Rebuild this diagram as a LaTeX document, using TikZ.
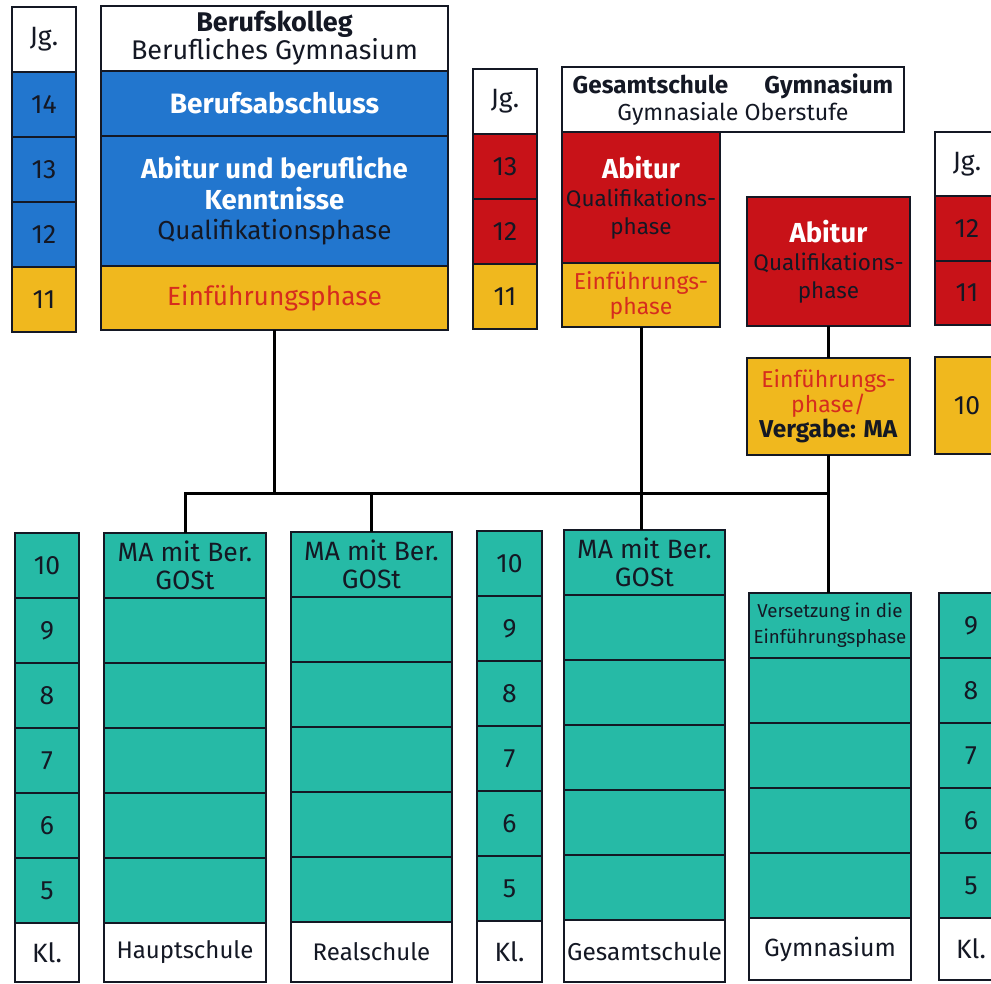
\documentclass[tikz,border=0pt]{standalone}
\usepackage{fontspec}
\setmainfont{Fira Sans}
\usetikzlibrary{positioning}
\definecolor{bkblue}{RGB}{34,118,206}
\definecolor{abired}{RGB}{200,18,24}
\definecolor{efyellow}{RGB}{240,184,30}
\definecolor{setteal}{RGB}{38,186,166}
\definecolor{eftext}{RGB}{214,44,30}
\definecolor{ink}{RGB}{20,24,36}
\newcommand{\setfs}[2]{\fontsize{#1}{#2}\selectfont}
\tikzstyle{cell} = [rectangle, draw=ink, line width=1.2pt, inner sep=0pt, outer sep=0pt,
    align=center, text=ink, font=\setfs{26.5}{30}]
\tikzstyle{jg} = [cell, minimum width=64pt, minimum height=65pt]
\tikzstyle{link} = [line width=3pt, black]

\begin{document}
\begin{tikzpicture}[x=1pt,y=-1pt]
  \clip (0,0) rectangle (991,983);

  % Berufskolleg
  \node[jg, fill=white, anchor=north west] (jgA0) at (12,7) {Jg.};
  \foreach \n/\c/\i/\j in {14/bkblue/1/0, 13/bkblue/2/1, 12/bkblue/3/2, 11/efyellow/4/3}
    \node[jg, fill=\c, below=0pt of jgA\j] (jgA\i) {\n};

  \node[cell, fill=white, minimum width=347pt, minimum height=65pt, anchor=north west,
        font=\setfs{27}{28}] (bk0) at (101,6) {\textbf{Berufskolleg}\\Berufliches Gymnasium};
  \node[cell, fill=bkblue, minimum width=347pt, minimum height=65pt, below=0pt of bk0,
        text=white, font=\setfs{28}{30}] (bk1) {\textbf{Berufsabschluss}};
  \node[cell, fill=bkblue, minimum width=347pt, minimum height=130pt, below=0pt of bk1,
        font=\setfs{26}{30.5}]
        (bk2) {\textcolor{white}{\setfs{27.5}{30.5}\textbf{Abitur und berufliche}}\\\textcolor{white}{\setfs{27.5}{30.5}\textbf{Kenntnisse}}\\Qualifikationsphase};
  \node[cell, fill=efyellow, minimum width=347pt, minimum height=64pt, below=0pt of bk2,
        text=eftext, font=\setfs{26.3}{30}] (bk3) {Einführungsphase};

  % Gesamtschule / Gymnasium, Oberstufe
  \node[jg, fill=white, anchor=north west] (jgB0) at (473,69) {Jg.};
  \foreach \n/\c/\i/\j in {13/abired/1/0, 12/abired/2/1, 11/efyellow/3/2}
    \node[jg, fill=\c, below=0pt of jgB\j] (jgB\i) {\n};

  \node[cell, fill=white, minimum width=342pt, minimum height=65pt, anchor=north west,
        font=\setfs{23.2}{27}] (gh) at (562,67)
        {{\setfs{24.3}{27}\textbf{Gesamtschule}\hspace{36pt}\textbf{Gymnasium}}\\Gymnasiale Oberstufe};
  \node[cell, fill=abired, minimum width=158pt, minimum height=131pt, anchor=north west,
        font=\setfs{22.5}{28}] (gsO1) at (562,132)
        {\textcolor{white}{\setfs{27.5}{28}\textbf{Abitur}}\\Qualifikations-\\phase};
  \node[cell, fill=efyellow, minimum width=158pt, minimum height=64pt, below=0pt of gsO1,
        text=eftext, font=\setfs{23}{25}] (gsO2) {Einführungs-\\phase};

  \node[cell, fill=abired, minimum width=163pt, minimum height=129pt, anchor=north west,
        font=\setfs{22.5}{28}] (gyA) at (747,197)
        {\textcolor{white}{\setfs{27.5}{28}\textbf{Abitur}}\\Qualifikations-\\phase};
  \node[cell, fill=efyellow, minimum width=163pt, minimum height=97pt, anchor=north west,
        text=eftext, font=\setfs{23}{25}] (gyE) at (747,358)
        {Einführungs-\\phase/\\\textcolor{ink}{\setfs{24.4}{25}\textbf{Vergabe: MA}}};

  \node[jg, fill=white, minimum height=64pt, anchor=north west] (jgC0) at (935,132) {Jg.};
  \node[jg, fill=abired, below=0pt of jgC0] (jgC1) {12};
  \node[jg, fill=abired, minimum height=64pt, below=0pt of jgC1] (jgC2) {11};
  \node[jg, fill=efyellow, minimum height=97pt, anchor=north west] (jgC3) at (935,357) {10};

  % Sekundarstufe I
  \node[jg, fill=setteal, anchor=north west] (klA1) at (15,533) {10};
  \foreach \n/\i/\j in {9/2/1, 8/3/2, 7/4/3, 6/5/4, 5/6/5}
    \node[jg, fill=setteal, below=0pt of klA\j] (klA\i) {\n};
  \node[jg, fill=white, minimum height=59pt, below=0pt of klA6] (klA7) {Kl.};

  \node[cell, fill=setteal, minimum width=162pt, minimum height=65pt, anchor=north west,
        font=\setfs{26.5}{27.5}] (hs1) at (104,533) {MA mit Ber.\\GOSt};
  \foreach \i/\j in {2/1, 3/2, 4/3, 5/4, 6/5}
    \node[cell, fill=setteal, minimum width=162pt, minimum height=65pt, below=0pt of hs\j] (hs\i) {};
  \node[cell, fill=white, minimum width=162pt, minimum height=59pt, below=0pt of hs6,
        font=\setfs{24}{28}] (hs7) {Hauptschule};

  \node[cell, fill=setteal, minimum width=161pt, minimum height=65pt, anchor=north west,
        font=\setfs{26.5}{27.5}] (rs1) at (291,532) {MA mit Ber.\\GOSt};
  \foreach \i/\j in {2/1, 3/2, 4/3, 5/4, 6/5}
    \node[cell, fill=setteal, minimum width=161pt, minimum height=65pt, below=0pt of rs\j] (rs\i) {};
  \node[cell, fill=white, minimum width=161pt, minimum height=60pt, below=0pt of rs6,
        font=\setfs{24}{28}] (rs7) {Realschule};

  \node[jg, fill=setteal, minimum width=65pt, anchor=north west] (klB1) at (477,531) {10};
  \foreach \n/\i/\j in {9/2/1, 8/3/2, 7/4/3, 6/5/4, 5/6/5}
    \node[jg, fill=setteal, minimum width=65pt, below=0pt of klB\j] (klB\i) {\n};
  \node[jg, fill=white, minimum width=65pt, minimum height=61pt, below=0pt of klB6] (klB7) {Kl.};

  \node[cell, fill=setteal, minimum width=161pt, minimum height=65pt, anchor=north west,
        font=\setfs{26.5}{27.5}] (gs1) at (564,530) {MA mit Ber.\\GOSt};
  \foreach \i/\j in {2/1, 3/2, 4/3, 5/4, 6/5}
    \node[cell, fill=setteal, minimum width=161pt, minimum height=65pt, below=0pt of gs\j] (gs\i) {};
  \node[cell, fill=white, minimum width=161pt, minimum height=62pt, below=0pt of gs6,
        font=\setfs{24.4}{28}] (gs7) {Gesamtschule};

  \node[cell, fill=setteal, minimum width=162pt, minimum height=65pt, anchor=north west,
        font=\setfs{18.7}{26}] (gy1) at (749,593) {Versetzung in die\\Einführungsphase};
  \foreach \i/\j in {2/1, 3/2, 4/3, 5/4}
    \node[cell, fill=setteal, minimum width=162pt, minimum height=65pt, below=0pt of gy\j] (gy\i) {};
  \node[cell, fill=white, minimum width=162pt, minimum height=62pt, below=0pt of gy5,
        font=\setfs{24.9}{28}] (gy6) {Gymnasium};

  \node[jg, fill=setteal, anchor=north west] (klC1) at (939,593) {9};
  \foreach \n/\i/\j in {8/2/1, 7/3/2, 6/4/3, 5/5/4}
    \node[jg, fill=setteal, below=0pt of klC\j] (klC\i) {\n};
  \node[jg, fill=white, minimum height=62pt, below=0pt of klC5] (klC6) {Kl.};

  % Verbindungen
  \coordinate (bus) at (0,493);
  \draw[link] (bk3.south) -- (bk3.south |- bus);
  \draw[link] (hs1.north) |- (gyE.south |- bus);
  \draw[link] (rs1.north) -- (rs1.north |- bus);
  \draw[link] (gsO2.south) -- (gsO2.south |- gs1.north);
  \draw[link] (gyA.south) -- (gyE.north);
  \draw[link] (gyE.south) -- (gyE.south |- gy1.north);
\end{tikzpicture}
\end{document}
